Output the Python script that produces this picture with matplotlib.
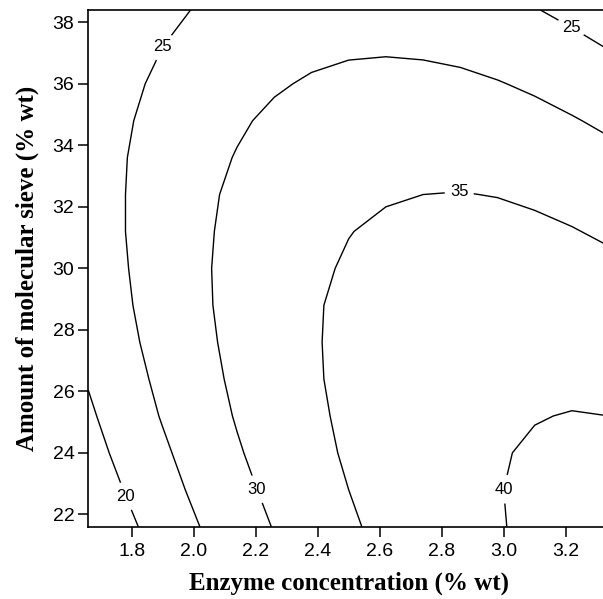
import matplotlib

matplotlib.use("Agg")
import matplotlib.pyplot as plt
import numpy as np

# grid (enzyme % wt x molecular sieve % wt)
enzyme = [1.66, 1.78, 1.90, 2.02, 2.14, 2.26, 2.38, 2.50, 2.62, 2.74, 2.86, 2.98, 3.10, 3.22, 3.34]
sieve = [21.6, 22.8, 24.0, 25.2, 26.4, 27.6, 28.8, 30.0, 31.2, 32.4, 33.6, 34.8, 36.0, 37.2, 38.4]
yield_pct = [
    [15.5, 18.9, 22.1, 25.0, 27.7, 30.2, 32.4, 34.4, 36.1, 37.6, 38.8, 39.8, 40.6, 41.2, 41.6],
    [16.9, 20.2, 23.3, 26.1, 28.7, 31.1, 33.2, 35.0, 36.6, 37.9, 39.0, 39.9, 40.5, 41.0, 41.2],
    [18.2, 21.4, 24.3, 27.1, 29.6, 31.8, 33.8, 35.5, 37.0, 38.2, 39.1, 39.8, 40.3, 40.6, 40.7],
    [19.3, 22.4, 25.3, 27.9, 30.3, 32.4, 34.2, 35.8, 37.2, 38.2, 39.0, 39.6, 39.9, 40.1, 40.0],
    [20.3, 23.3, 26.0, 28.5, 30.8, 32.8, 34.5, 36.0, 37.2, 38.1, 38.8, 39.2, 39.4, 39.4, 39.2],
    [21.1, 24.0, 26.6, 29.0, 31.1, 33.0, 34.6, 36.0, 37.0, 37.8, 38.4, 38.7, 38.8, 38.6, 38.2],
    [21.8, 24.5, 27.0, 29.3, 31.3, 33.1, 34.6, 35.8, 36.7, 37.4, 37.8, 38.0, 37.9, 37.6, 37.1],
    [22.2, 24.8, 27.2, 29.4, 31.3, 32.9, 34.3, 35.4, 36.2, 36.8, 37.1, 37.1, 36.9, 36.5, 35.9],
    [22.5, 25.0, 27.3, 29.3, 31.1, 32.6, 33.9, 34.9, 35.6, 36.0, 36.2, 36.1, 35.8, 35.2, 34.4],
    [22.7, 25.0, 27.2, 29.1, 30.8, 32.2, 33.3, 34.2, 34.7, 35.0, 35.1, 34.9, 34.4, 33.7, 32.8],
    [22.7, 24.9, 26.9, 28.7, 30.2, 31.5, 32.5, 33.2, 33.7, 33.9, 33.8, 33.5, 32.9, 32.1, 31.1],
    [22.5, 24.6, 26.4, 28.1, 29.5, 30.7, 31.5, 32.2, 32.5, 32.6, 32.4, 31.9, 31.2, 30.3, 29.2],
    [22.1, 24.1, 25.8, 27.3, 28.6, 29.6, 30.4, 30.9, 31.1, 31.1, 30.8, 30.2, 29.4, 28.3, 27.1],
    [21.6, 23.4, 25.0, 26.4, 27.6, 28.5, 29.1, 29.5, 29.6, 29.4, 29.0, 28.3, 27.3, 26.2, 24.8],
    [20.9, 22.6, 24.1, 25.3, 26.3, 27.1, 27.6, 27.9, 27.8, 27.6, 27.0, 26.2, 25.2, 23.9, 22.4],
]
levels = [20, 25, 30, 35, 40]
xticks = [1.8, 2.0, 2.2, 2.4, 2.6, 2.8, 3.0, 3.2]
yticks = [22, 24, 26, 28, 30, 32, 34, 36, 38]

# where the reference puts its contour labels
label_spots = [(1.784, 22.6), (1.90, 37.2), (3.214, 37.77), (2.20, 22.8), (2.857, 32.46), (3.01, 22.8)]

fig = plt.figure(figsize=(6.03, 5.99), dpi=100)
# axes run a little past the right edge, as in the cropped original
ax = fig.add_axes([0.1464, 0.1207, 0.8637, 0.8626])

cs = ax.contour(enzyme, sieve, np.array(yield_pct), levels=levels, colors="black", linewidths=1.0)
txts = ax.clabel(cs, fmt="%d", fontsize=12, inline=True, inline_spacing=4, manual=label_spots)
for t in txts:
    t.set_rotation(0)
    t.set_family("Liberation Sans")

ax.set_xlim(1.66, 3.34)
ax.set_ylim(21.6, 38.4)
ax.set_xticks(xticks)
ax.set_yticks(yticks)
ax.set_xticklabels([f"{v:.1f}" for v in xticks])
ax.set_yticklabels([str(v) for v in yticks])
for lab in ax.get_xticklabels() + ax.get_yticklabels():
    lab.set_family("Liberation Sans")
    lab.set_fontsize(14)
ax.tick_params(direction="out", length=7, width=1.1, color="black")
ax.tick_params(axis="x", pad=5)
ax.tick_params(axis="y", pad=3)
for s in ax.spines.values():
    s.set_linewidth(1.2)
ax.spines["right"].set_visible(False)

ax.set_xlabel("Enzyme concentration (% wt)", family="Liberation Serif", fontweight="bold", fontsize=18, labelpad=8)
ax.set_ylabel("Amount of molecular sieve (% wt)", family="Liberation Serif", fontweight="bold", fontsize=18, labelpad=10)

fig.savefig("out.png", dpi=100)
